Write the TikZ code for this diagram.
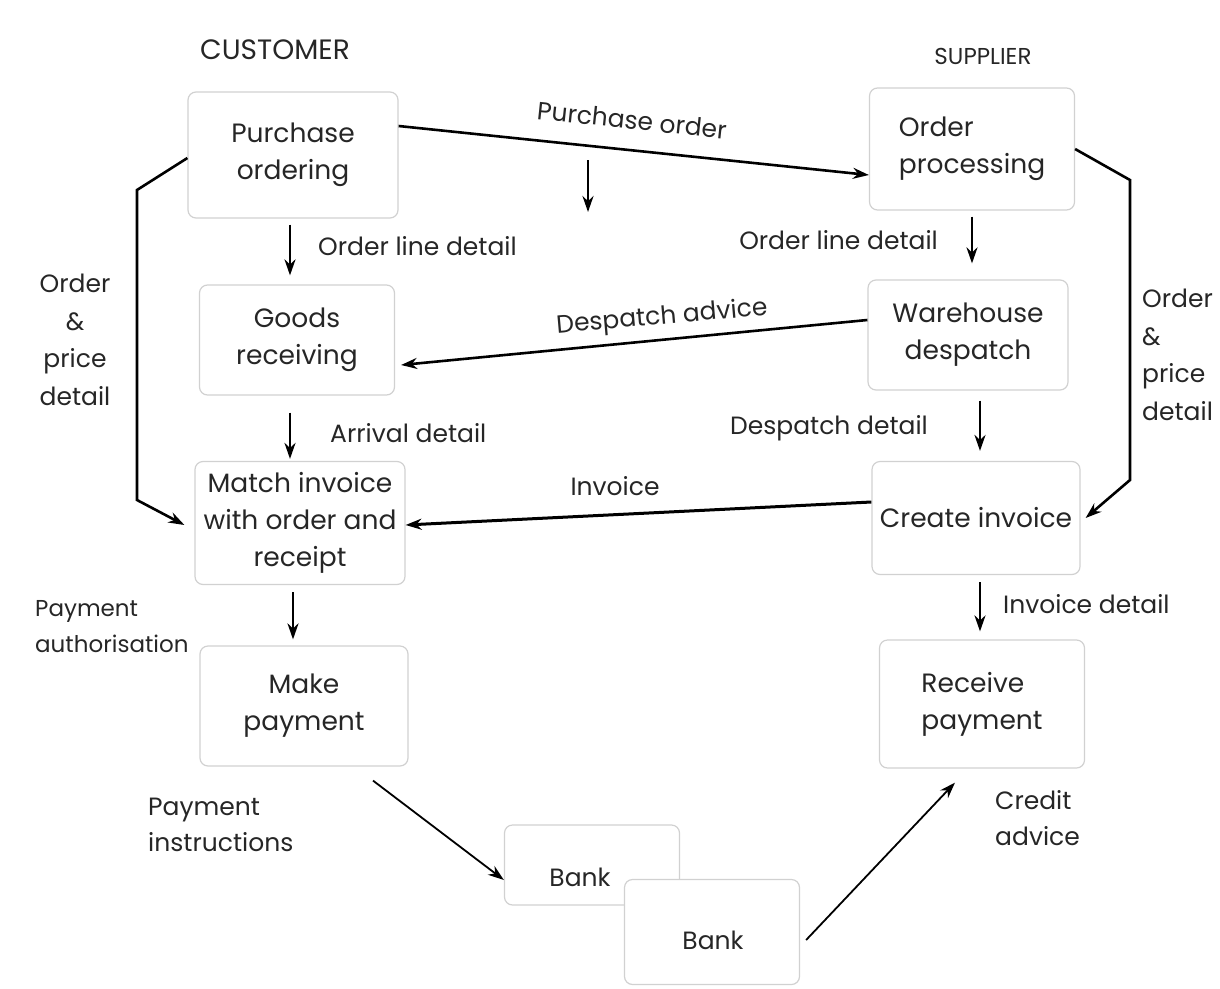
\documentclass[tikz,border=0pt]{standalone}
\usepackage{fontspec}
\setmainfont{Poppins}
\usetikzlibrary{arrows.meta,calc}
\begin{document}
\begin{tikzpicture}[x=1pt,y=-1pt,
  box/.style={draw=black!18,line width=1.2pt,rounded corners=8pt,align=center,
    font=\fontsize{26.5}{37}\selectfont,text=black!85,inner sep=0pt},
  lbl/.style={font=\fontsize{25}{36}\selectfont,text=black!85,inner sep=0pt},
  arr/.style={line width=2.6pt,-{Stealth[length=16pt,width=11pt]}},
  thinarr/.style={line width=1.8pt,-{Stealth[length=16pt,width=11pt]}},
  bracket/.style={line width=2.6pt,-{Stealth[length=16pt,width=11pt]}}]
\useasboundingbox (0,0) rectangle (1220,988);
% boxes
\node[box,minimum width=210pt,minimum height=126pt] (po) at (293,155) {Purchase\\ordering};
\node[box,minimum width=205pt,minimum height=122pt,align=left] (op) at (972,149) {Order\\processing};
\node[box,minimum width=195pt,minimum height=110pt] (gr) at (297,340) {Goods\\receiving};
\node[box,minimum width=200pt,minimum height=110pt] (wd) at (968,335) {Warehouse\\despatch};
\node[box,minimum width=210pt,minimum height=123pt] (mi) at (300,523) {Match invoice\\with order and\\receipt};
\node[box,minimum width=208pt,minimum height=113pt] (ci) at (976,518) {Create invoice};
\node[box,minimum width=208pt,minimum height=120pt] (mp) at (304,706) {Make\\payment};
\node[box,minimum width=205pt,minimum height=128pt,align=left] (rp) at (982,704) {Receive\\payment};
\node[box,minimum width=175pt,minimum height=80pt] (b1) at (592,865) {};
\node[lbl] (b1t) at (580,877) {Bank};
\node[box,fill=white,minimum width=175pt,minimum height=105pt] (b2) at (712,932) {};
\node[lbl] (b2t) at (713,940) {Bank};
% headings
\node[lbl,font=\fontsize{28}{32}\selectfont] (cust) at (275,50) {CUSTOMER};
\node[lbl,font=\fontsize{23}{26}\selectfont] (supp) at (983,56) {SUPPLIER};
% connectors
\draw[arr] ([yshift=29pt]po.east) -- ([yshift=-26pt]op.west);
\node[lbl,rotate=-6] (lpo) at (632,120) {Purchase order};
\coordinate (s1) at (588,160);
\coordinate (s2) at (588,212);
\draw[arr] (s1) -- (s2);
\draw[arr,shorten <=6pt,shorten >=9pt] ([xshift=-3pt]po.south) -- ([xshift=-3pt]po.south |- gr.north);
\node[lbl,anchor=west] (lold1) at (318,246) {Order line detail};
\draw[arr,shorten <=6pt,shorten >=16pt] (op.south) -- (op.south |- wd.north);
\node[lbl,anchor=east] (lold2) at (938,240) {Order line detail};
\draw[arr] ([yshift=15pt]wd.west) -- ([yshift=-25pt,xshift=6pt]gr.east);
\node[lbl,rotate=5] (lda) at (662,318) {Despatch advice};
\draw[arr,shorten <=17pt,shorten >=2pt] ([xshift=-10pt]mi.north |- gr.south) -- ([xshift=-10pt]mi.north);
\node[lbl,anchor=west] (lad) at (330,433) {Arrival detail};
\draw[arr,shorten <=10pt,shorten >=10pt] ([xshift=4pt]ci.north |- wd.south) -- ([xshift=4pt]ci.north);
\node[lbl,anchor=east] (ldd) at (928,428) {Despatch detail};
\draw[arr,line width=3pt] ([yshift=16pt]ci.west) -- ([yshift=-2pt]mi.east);
\node[lbl] (linv) at (615,486) {Invoice};
\draw[bracket] ([yshift=-3pt]po.west) -- (137,190) -- (137,500) -- ([yshift=-2pt,xshift=-10pt]mi.west);
\node[lbl,align=center,font=\fontsize{25}{37.5}\selectfont] (lopd1) at (75,340) {Order\\\&\\price\\detail};
\draw[bracket] (op.east) -- (1130,180) -- (1130,480) -- ([xshift=5pt]ci.east);
\node[lbl,align=left,anchor=west,font=\fontsize{25}{37.5}\selectfont] (lopd2) at (1142,355) {Order\\\&\\price\\detail};
\draw[arr,shorten <=7pt,shorten >=6pt] ([xshift=-7pt]mi.south) -- ([xshift=-7pt]mi.south |- mp.north);
\node[lbl,align=left,anchor=west,font=\fontsize{23}{36}\selectfont] (lpa) at (35,627) {Payment\\authorisation};
\draw[arr,shorten <=7pt,shorten >=8pt] ([xshift=4pt]ci.south) -- ([xshift=4pt]ci.south |- rp.north);
\node[lbl,anchor=west] (lid) at (1003,604) {Invoice detail};
\draw[thinarr] ([xshift=69pt,yshift=-14pt]mp.south) -- ([yshift=-15pt]b1.west);
\node[lbl,align=left,anchor=west] (lpi) at (148,825) {Payment\\instructions};
\draw[thinarr] ([xshift=6pt,yshift=-8pt]b2.east) -- ([xshift=-27pt,yshift=-14pt]rp.south);
\node[lbl,align=left,anchor=west] (lca) at (995,818) {Credit\\advice};
\end{tikzpicture}
\end{document}
